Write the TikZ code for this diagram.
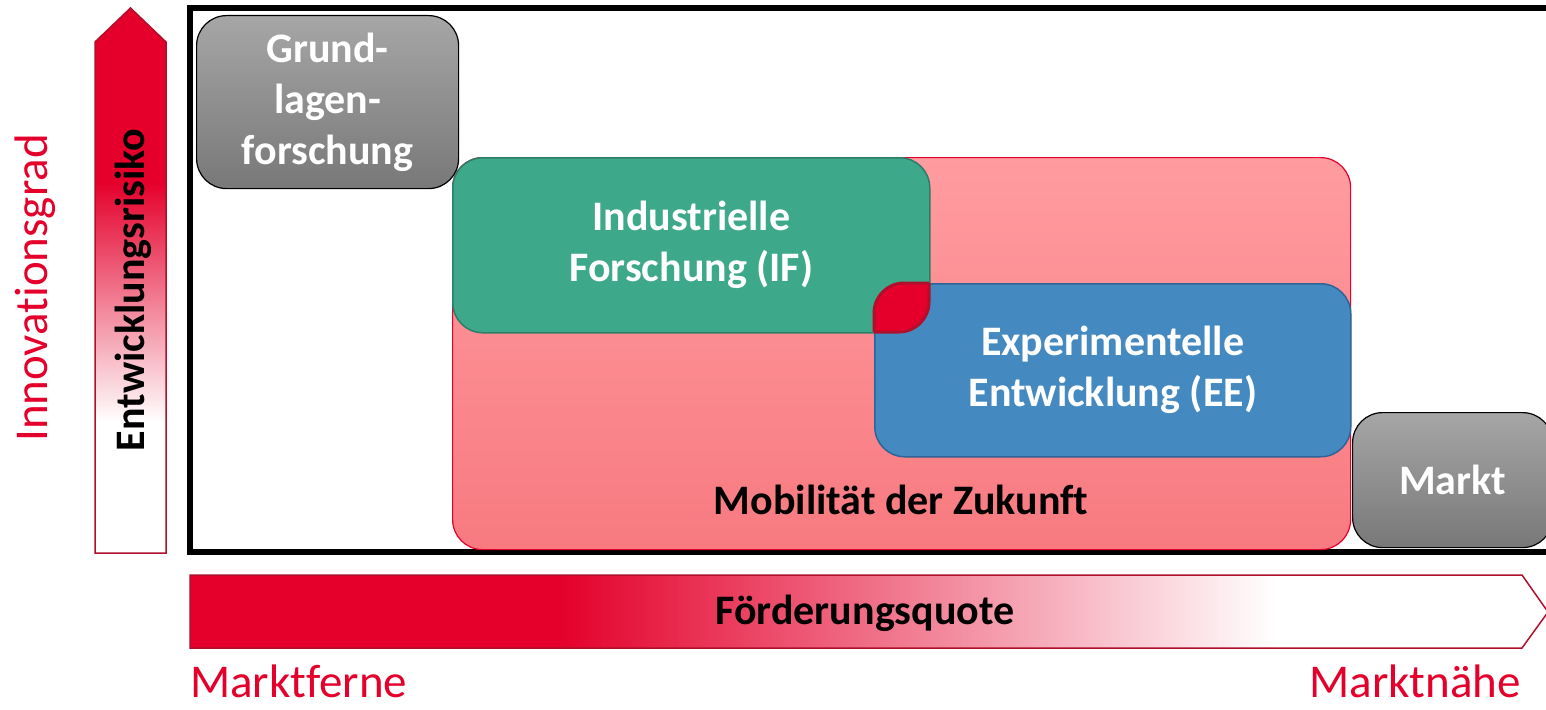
\documentclass[tikz,border=0pt]{standalone}
\usepackage{fontspec}
\setmainfont[Ligatures=NoCommon]{Carlito}
\definecolor{myred}{RGB}{228,0,43}
\definecolor{darkred}{RGB}{176,16,43}
\definecolor{ifgreen}{RGB}{62,168,138}
\definecolor{ifgreenb}{RGB}{46,125,105}
\definecolor{eeblue}{RGB}{69,137,193}
\definecolor{eeblueb}{RGB}{47,100,150}
\definecolor{pinktop}{RGB}{255,156,160}
\definecolor{pinkbot}{RGB}{247,122,128}
\definecolor{graytop}{RGB}{166,166,166}
\definecolor{graybot}{RGB}{120,120,120}
\pgfdeclarehorizontalshading{redfadeh}{100bp}{color(0bp)=(myred); color(38.6bp)=(myred); color(65bp)=(white); color(100bp)=(white)}
\pgfdeclareverticalshading{redfadev}{100bp}{color(0bp)=(white); color(37bp)=(white); color(59bp)=(myred); color(100bp)=(myred)}
\tikzset{
  boxbase/.style={rectangle, rounded corners=30pt, anchor=north west, inner sep=0pt, align=center, font=\fontsize{42}{51}\selectfont\bfseries},
  graybox/.style={boxbase, draw=black, line width=1.2pt, top color=graytop, bottom color=graybot, text=white},
  pinkbox/.style={boxbase, draw=myred, line width=1.2pt, top color=pinktop, bottom color=pinkbot},
  ifbox/.style={boxbase, draw=ifgreenb, line width=1.5pt, fill=ifgreen, text=white},
  eebox/.style={boxbase, draw=eeblueb, line width=1.5pt, fill=eeblue, text=white},
  boldlbl/.style={font=\fontsize{42}{51}\selectfont\bfseries, inner sep=0pt},
  redlbl/.style={font=\fontsize{47}{56}\selectfont, text=myred, inner sep=0pt},
}
\begin{document}
\begin{tikzpicture}[x=1pt,y=-1pt]
\useasboundingbox (0,0) rectangle (1546,709);
% frame
\draw[line width=6pt] (190,8) rectangle (1560,552);
% vertical arrow
\path[shading=redfadev, draw=darkred, line width=1.5pt] (95,553) -- (95,42) -- (130.5,8) -- (166,42) -- (166,553) -- cycle;
\node[boldlbl, rotate=90] (risk) at (133,290) {Entwicklungsrisiko};
\node[redlbl, rotate=90] (innov) at (35,288) {Innovationsgrad};
% horizontal arrow
\path[shading=redfadeh, draw=darkred, line width=1.5pt] (190,575) -- (1522,575) -- (1548,612) -- (1522,648) -- (190,648) -- cycle;
\node[boldlbl] (quote) at (865,613) {Förderungsquote};
\node[redlbl, anchor=base west] (ferne) at (190,697) {Marktferne};
\node[redlbl, anchor=base east] (naehe) at (1521,697) {Marktnähe};
% boxes
\node[pinkbox, minimum width=898pt, minimum height=392pt] (mob) at (452,157) {};
\node[boldlbl] (moblbl) at (901,500) {Mobilität der Zukunft};
\node[ifbox, minimum width=477pt, minimum height=175pt] (if) at (452,157) {Industrielle\\Forschung (IF)};
\node[eebox, minimum width=476pt, minimum height=173pt] (ee) at (874,283) {Experimentelle\\Entwicklung (EE)};
% overlap
\begin{scope}
  \clip[rounded corners=30pt] (452,157) rectangle (929,332);
  \fill[myred, draw=darkred, line width=3pt, rounded corners=30pt] (874,283) rectangle (1350,456);
\end{scope}
\begin{scope}
  \clip[rounded corners=30pt] (874,283) rectangle (1350,456);
  \draw[darkred, line width=3pt, rounded corners=30pt] (452,157) rectangle (929,332);
\end{scope}
\node[graybox, minimum width=262pt, minimum height=173pt] (grund) at (196,15) {Grund-\\lagen-\\forschung};
\node[graybox, minimum width=200pt, minimum height=135pt] (markt) at (1352,412) {Markt};
\end{tikzpicture}
\end{document}
